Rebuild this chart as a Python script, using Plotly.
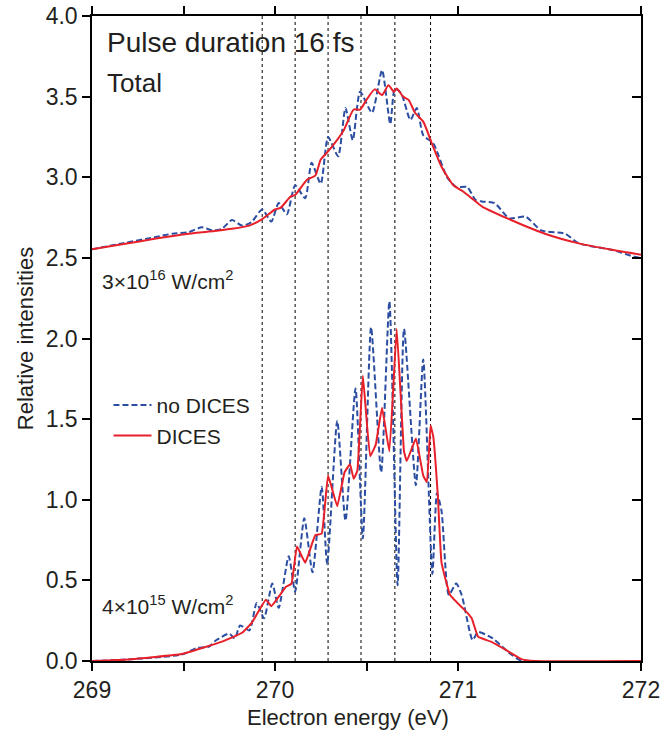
import plotly.graph_objects as go

# ---------------- data ----------------
# Upper spectrum (3x10^16 W/cm^2)
hi_dices_x = [269.0, 269.165, 269.35, 269.53, 269.67, 269.765, 269.86, 269.93, 270.0, 270.03,
              270.085, 270.11, 270.175, 270.22, 270.25, 270.29, 270.375, 270.43, 270.465, 270.50,
              270.545, 270.585, 270.62, 270.65, 270.665, 270.70, 270.73, 270.765, 270.81, 270.857,
              270.91, 270.975, 271.03, 271.085, 271.13, 271.29, 271.475, 271.66, 271.84, 272.0]
hi_dices_y = [2.553, 2.584, 2.62, 2.65, 2.667, 2.68, 2.70, 2.74, 2.80, 2.81,
              2.88, 2.89, 2.985, 3.01, 3.11, 3.16, 3.29, 3.42, 3.42, 3.48,
              3.545, 3.51, 3.57, 3.53, 3.55, 3.50, 3.48, 3.40, 3.345, 3.21,
              3.065, 2.95, 2.91, 2.86, 2.82, 2.735, 2.65, 2.59, 2.55, 2.52]

hi_nodices_x = [269.0, 269.165, 269.35, 269.44, 269.53, 269.60, 269.66, 269.71, 269.765, 269.82,
                269.87, 269.93, 269.98, 270.02, 270.065, 270.11, 270.165, 270.20, 270.25, 270.29,
                270.345, 270.385, 270.425, 270.465, 270.53, 270.585, 270.63, 270.655, 270.69, 270.74,
                270.775, 270.81, 270.865, 270.94, 270.99, 271.05, 271.095, 271.13, 271.20, 271.28,
                271.37, 271.455, 271.585, 271.66, 271.84, 271.97, 272.0]
hi_nodices_y = [2.553, 2.59, 2.63, 2.65, 2.66, 2.69, 2.67, 2.68, 2.735, 2.70,
                2.72, 2.80, 2.725, 2.84, 2.77, 2.95, 2.87, 3.09, 2.96, 3.25,
                3.13, 3.43, 3.23, 3.53, 3.40, 3.665, 3.33, 3.55, 3.52, 3.355,
                3.43, 3.26, 3.21, 3.00, 2.94, 2.94, 2.86, 2.85, 2.84, 2.745,
                2.755, 2.67, 2.65, 2.59, 2.55, 2.505, 2.50]

# Lower spectrum (4x10^15 W/cm^2)
lo_dices_x = [269.0, 269.2, 269.49, 269.71, 269.82, 269.875, 269.95, 269.98, 270.06, 270.09,
              270.12, 270.165, 270.22, 270.255, 270.29, 270.34, 270.38, 270.41, 270.43, 270.45,
              270.48, 270.52, 270.55, 270.585, 270.625, 270.665, 270.705, 270.72, 270.77, 270.81,
              270.83, 270.85, 270.865, 270.89, 270.91, 270.957, 271.05, 271.075, 271.11, 271.18,
              271.26, 271.35, 271.42, 272.0]
lo_dices_y = [0.0, 0.01, 0.043, 0.12, 0.175, 0.24, 0.38, 0.34, 0.46, 0.48,
              0.71, 0.61, 0.78, 0.79, 1.15, 0.96, 1.17, 1.22, 1.13, 1.18,
              1.77, 1.27, 1.34, 1.57, 1.30, 2.06, 1.30, 1.24, 1.38, 1.15,
              1.11, 1.46, 1.39, 1.02, 0.61, 0.41, 0.30, 0.265, 0.15, 0.12,
              0.07, 0.01, 0.0, 0.0]

lo_nodices_x = [269.0, 269.2, 269.49, 269.57, 269.64, 269.68, 269.75, 269.78, 269.81, 269.86,
                269.90, 269.94, 269.985, 270.02, 270.075, 270.11, 270.16, 270.205, 270.255, 270.285,
                270.34, 270.385, 270.44, 270.48, 270.525, 270.58, 270.625, 270.67, 270.705, 270.77,
                270.81, 270.86, 270.885, 270.91, 270.95, 270.99, 271.02, 271.08, 271.11, 271.19,
                271.27, 271.35, 272.0]
lo_nodices_y = [0.0, 0.01, 0.04, 0.08, 0.09, 0.13, 0.17, 0.14, 0.22, 0.19,
                0.36, 0.265, 0.48, 0.33, 0.65, 0.43, 0.885, 0.55, 1.08, 0.60,
                1.49, 0.87, 1.69, 0.76, 2.07, 1.17, 2.23, 0.47, 2.06, 1.09,
                1.87, 0.54, 1.04, 0.93, 0.41, 0.48, 0.41, 0.13, 0.18, 0.14,
                0.06, 0.0, 0.0]

marker_energies = [269.93, 270.11, 270.29, 270.47, 270.655, 270.85]

x_ticks = [269, 270, 271, 272]
y_ticks = [0.0, 0.5, 1.0, 1.5, 2.0, 2.5, 3.0, 3.5, 4.0]

RED = "#E8202A"
BLUE = "#2B4EA2"
TXT = "#231F20"
FONT = "Liberation Sans, Arial, Helvetica, sans-serif"

fig = go.Figure()

for xv in marker_energies:
    fig.add_vline(x=xv, line=dict(color="black", width=1, dash="dot"), layer="below")

fig.add_trace(go.Scatter(x=hi_nodices_x, y=hi_nodices_y, mode="lines", showlegend=False,
                         line=dict(color=BLUE, width=2, dash="6px,3px", shape="spline", smoothing=0.6)))
fig.add_trace(go.Scatter(x=hi_dices_x, y=hi_dices_y, mode="lines", showlegend=False,
                         line=dict(color=RED, width=2, shape="spline", smoothing=0.6)))
fig.add_trace(go.Scatter(x=lo_nodices_x, y=lo_nodices_y, mode="lines", name="no DICES",
                         line=dict(color=BLUE, width=2, dash="6px,3px", shape="spline", smoothing=0.6)))
fig.add_trace(go.Scatter(x=lo_dices_x, y=lo_dices_y, mode="lines", name="DICES",
                         line=dict(color=RED, width=2, shape="spline", smoothing=0.3)))
# invisible trace to anchor the right-hand mirror axis
fig.add_trace(go.Scatter(x=[x_ticks[0]], y=[y_ticks[0]], xaxis="x", yaxis="y2", mode="markers",
                         marker=dict(opacity=0), showlegend=False, hoverinfo="skip"))

axis_common = dict(showline=True, linecolor="black", linewidth=1.5, showgrid=False, zeroline=False,
                   tickcolor="black", tickwidth=1.5, automargin=False, ticklabeloverflow="allow",
                   tickfont=dict(family=FONT, size=23, color=TXT))

fig.update_layout(
    width=661, height=737,
    margin=dict(l=92, r=20, t=16, b=76, autoexpand=False),
    paper_bgcolor="white", plot_bgcolor="white",
    font=dict(family=FONT, color=TXT),
    xaxis=dict(range=[269, 272], tickvals=x_ticks, ticks="outside", ticklen=8, mirror="allticks",
               minor=dict(dtick=0.5, tick0=269, ticks="outside", ticklen=5, tickcolor="black", tickwidth=1.5),
               **axis_common),
    yaxis=dict(range=[0, 4.0], tickvals=y_ticks, tickformat=".1f", ticks="outside", ticklen=8,
               title=dict(text="Relative intensities", font=dict(family=FONT, size=22, color=TXT), standoff=6),
               **axis_common),
    yaxis2=dict(range=[0, 4.0], overlaying="y", anchor="x", side="right", tickvals=y_ticks,
                ticks="inside", ticklen=9, showticklabels=False, showline=True, linecolor="black",
                linewidth=1.5, showgrid=False, zeroline=False, tickcolor="black", tickwidth=1.5,
                automargin=False),
    legend=dict(x=0.03, y=0.428, xanchor="left", yanchor="top", bgcolor="rgba(0,0,0,0)",
                font=dict(family=FONT, size=21, color=TXT), itemwidth=38, tracegroupgap=0),
    annotations=[
        dict(text="Electron energy (eV)", x=0.466, y=-0.088, xref="paper", yref="paper",
             xanchor="center", yanchor="middle", showarrow=False,
             font=dict(family=FONT, size=22, color=TXT)),
        dict(text="Pulse duration 16 fs", x=0.024, y=0.986, xref="paper", yref="paper", xanchor="left",
             yanchor="top", showarrow=False, font=dict(family=FONT, size=28, color=TXT)),
        dict(text="Total", x=0.024, y=0.923, xref="paper", yref="paper", xanchor="left",
             yanchor="top", showarrow=False, font=dict(family=FONT, size=26, color=TXT)),
        dict(text="3×10<sup>16</sup> W/cm<sup>2</sup>", x=0.014, y=2.36, xref="paper", yref="y",
             xanchor="left", yanchor="middle", showarrow=False, font=dict(family=FONT, size=21, color=TXT)),
        dict(text="4×10<sup>15</sup> W/cm<sup>2</sup>", x=0.014, y=0.35, xref="paper", yref="y",
             xanchor="left", yanchor="middle", showarrow=False, font=dict(family=FONT, size=21, color=TXT)),
    ],
)

fig.write_html("out.html")
